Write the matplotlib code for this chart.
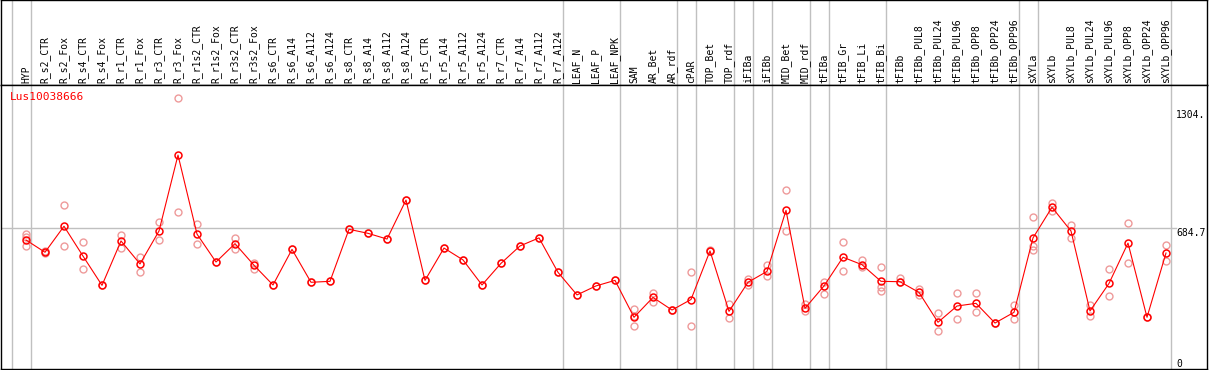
import matplotlib
matplotlib.use("Agg")
import matplotlib.pyplot as plt

# samples (column labels)
samples = ["HYP", "R_s2_CTR", "R_s2_Fox", "R_s4_CTR", "R_s4_Fox", "R_r1_CTR", "R_r1_Fox",
           "R_r3_CTR", "R_r3_Fox", "R_r1s2_CTR", "R_r1s2_Fox", "R_r3s2_CTR", "R_r3s2_Fox",
           "R_s6_CTR", "R_s6_A14", "R_s6_A112", "R_s6_A124", "R_s8_CTR", "R_s8_A14",
           "R_s8_A112", "R_s8_A124", "R_r5_CTR", "R_r5_A14", "R_r5_A112", "R_r5_A124",
           "R_r7_CTR", "R_r7_A14", "R_r7_A112", "R_r7_A124", "LEAF_N", "LEAF_P", "LEAF_NPK",
           "SAM", "AR_Bet", "AR_rdf", "cPAR", "TOP_Bet", "TOP_rdf", "iFIBa", "iFIBb",
           "MID_Bet", "MID_rdf", "tFIBa", "tFIB_Gr", "tFIB_Li", "tFIB_Bi", "tFIBb",
           "tFIBb_PUL8", "tFIBb_PUL24", "tFIBb_PUL96", "tFIBb_OPP8", "tFIBb_OPP24",
           "tFIBb_OPP96", "sXYLa", "sXYLb", "sXYLb_PUL8", "sXYLb_PUL24", "sXYLb_PUL96",
           "sXYLb_OPP8", "sXYLb_OPP24", "sXYLb_OPP96"]

# mean expression per sample
means = [622, 558, 694, 538, 385, 617, 497, 669, 1066, 653, 507, 603, 490,
         387, 573, 401, 406, 678, 657, 627, 831, 411, 580, 518, 387,
         500, 591, 633, 453, 335, 382, 411,
         218, 322, 256, 311, 565, 249, 401, 458, 777, 265, 382, 532, 493, 406,
         404, 348, 192, 277, 291, 188, 244,
         633, 793, 669, 251, 395, 606, 218, 554]

# individual replicates per sample
replicates = [[652, 639, 592], [562, 555], [803, 589], [610, 470], [385], [648, 578],
              [535, 457], [714, 620], [767, 1364], [706, 599], [507], [630, 577], [504, 470],
              [387], [573], [401], [406], [678], [657], [627], [831], [411], [580], [518],
              [387], [500], [591], [633], [453], [335], [382], [411],
              [261, 225, 171], [347, 300], [258, 254], [453, 175], [570, 562], [289, 213],
              [420, 387], [490, 432], [885, 667], [286, 251], [404, 340], [610, 458],
              [519, 479], [479, 378, 357], [422, 404], [364, 335], [239, 146], [343, 207],
              [343, 244], [190, 186], [282, 207], [741, 591, 568], [814, 775], [700, 630],
              [280, 223], [469, 328], [709, 500], [218], [594, 512]]

# first sample of each group (vertical separators)
group_starts = [0, 1, 29, 32, 35, 36, 38, 39, 40, 42, 43, 46, 53, 54, 61]

gene = "Lus10038666"
y_ticks = [0, 684.7, 1304]
y_tick_labels = ["0", "684.7", "1304."]

W, H = 1209, 370
fig = plt.figure(figsize=(W / 100, H / 100), dpi=100)

xlim = ((1 - 26) / 19, (1207 - 26) / 19)
ylim = ((359 - 369) / 0.1913, (359 - 85) / 0.1913)

head = fig.add_axes([1 / W, (H - 85) / H, 1206 / W, 85 / H])
ax = fig.add_axes([1 / W, 1 / H, 1206 / W, 284 / H])

for a in (head, ax):
    a.set_xlim(xlim)
    a.set_xticks([])
    a.set_yticks([])
    for s in a.spines.values():
        s.set_linewidth(1)
        s.set_color("black")
    for g in group_starts:
        a.axvline(g - 14 / 19, color="#c0c0c0", lw=1, zorder=1)
head.set_ylim(0, 1)
ax.set_ylim(ylim)

mono = "DejaVu Sans Mono"
for i, name in enumerate(samples):
    head.text(i, 0.02, name, rotation=90, ha="center", va="bottom",
              fontsize=7, family=mono)

# horizontal reference line at the middle tick
xr = (1176 - 26) / 19
ax.plot([xlim[0], xr], [y_ticks[1], y_ticks[1]], color="#c0c0c0", lw=1, zorder=1)

for v, lab in zip(y_ticks, y_tick_labels):
    ax.text(xr, v, lab, ha="left", va="top", fontsize=7, family=mono)

# replicates
for i, reps in enumerate(replicates):
    ax.plot([i] * len(reps), reps, "o", ms=5, mfc="none", mec="#ee9a9a", mew=1, zorder=2)

# means
ax.plot(range(len(means)), means, "-o", color="red", lw=0.8, ms=5, mfc="none",
        mec="red", mew=1.1, zorder=3)

fig.text(10 / W, (H - 97) / H, gene, color="red", fontsize=8, family=mono,
         ha="left", va="center")

fig.savefig("out.png", dpi=100)
